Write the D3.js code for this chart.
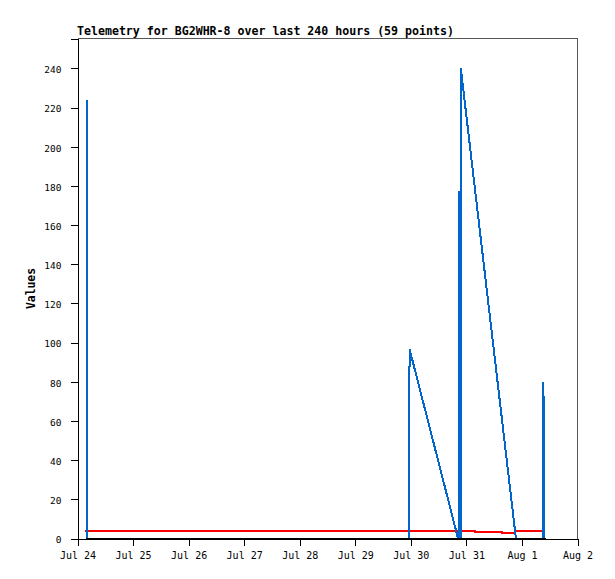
<!DOCTYPE html>
<html>
<head>
<meta charset="utf-8">
<script src="https://cdn.jsdelivr.net/npm/d3@7"></script>
<style>
  html, body { margin: 0; padding: 0; background: #fff; }
  svg { display: block; }
  text { font-family: "DejaVu Sans Mono", "Liberation Mono", monospace; fill: #000; }
</style>
</head>
<body>
<script>
// ---- data (hours since Jul 24 00:00) ----
const titleText = "Telemetry for BG2WHR-8 over last 240 hours (59 points)";
const yLabel = "Values";
const startDate = new Date(2023, 6, 24, 0, 0, 0);
const endDate = new Date(2023, 7, 2, 0, 0, 0);
const yTicks = [0, 20, 40, 60, 80, 100, 120, 140, 160, 180, 200, 220, 240];
const yMax = 255.3;

const blueHours  = [4.0, 4.0, 4.1, 143.1, 143.1, 143.5, 164.4, 164.8, 164.8, 165.2, 165.2, 165.6, 165.6, 189.4, 201.0, 201.0, 201.7, 201.7];
const blueValues = [0,   224, 0,   0,     48,    96.5,  0,     0,     177,   177,   0,     0,     240,   0,     0,     80,    64.5,  0];

const redHours   = [3.2, 171.8, 171.9, 183.5, 183.6, 189.0, 189.1, 200.9];
const redValues  = [3.6, 3.6,   3.1,   3.1,   2.6,   2.6,   3.6,   3.6];

const blackHours  = [3.6, 202.2];
const blackValues = [0,   0];

// ---- chart ----
(function () {
const W = 615, H = 579;
const mLeft = 77.5, mRight = 577.5, mTop = 38.5, mBottom = 538.5;
const svg = d3.select("body").append("svg").attr("width", W).attr("height", H);

const x = d3.scaleTime().domain([startDate, endDate]).range([mLeft, mRight]);
const y = d3.scaleLinear().domain([0, yMax]).range([mBottom, mTop]);
const toDate = h => new Date(startDate.getTime() + h * 3600000);

// frame (top/right gray)
svg.append("path")
  .attr("d", `M${mLeft},${mTop}H${mRight}V${mBottom}`)
  .attr("fill", "none").attr("stroke", "#555").attr("stroke-width", 1)
  .attr("shape-rendering", "crispEdges");

// series
function series(hours, values, color) {
  const pts = hours.map((h, i) => [toDate(h), values[i]]);
  svg.append("path")
    .datum(pts)
    .attr("fill", "none")
    .attr("stroke", color)
    .attr("stroke-width", 2)
    .attr("shape-rendering", "crispEdges")
    .attr("d", d3.line().x(d => x(d[0])).y(d => y(d[1])));
}
series(redHours, redValues, "#ff0000");
series(blueHours, blueValues, "#0066cc");

// axes
const xAxis = d3.axisBottom(x)
  .ticks(d3.timeDay.every(1))
  .tickFormat(d3.timeFormat("%b %-d"))
  .tickSize(7).tickPadding(5);
const gx = svg.append("g").attr("transform", `translate(0,${mBottom})`).call(xAxis);
gx.select(".domain").attr("stroke", "#000").attr("shape-rendering", "crispEdges");
gx.selectAll(".tick line").attr("stroke", "#000").attr("shape-rendering", "crispEdges");
gx.selectAll("text").attr("font-size", "10px").attr("font-family", "DejaVu Sans Mono").attr("dy", "0.85em");

const yAxis = d3.axisLeft(y).tickValues(yTicks).tickSize(7).tickPadding(9);
const gy = svg.append("g").attr("transform", `translate(${mLeft},0)`).call(yAxis);
gy.select(".domain").attr("stroke", "#000").attr("shape-rendering", "crispEdges");
gy.selectAll(".tick line").attr("stroke", "#000").attr("shape-rendering", "crispEdges");
gy.selectAll("text").attr("font-size", "9.5px").attr("font-family", "DejaVu Sans Mono").attr("dy", "0.45em");

// black zero series on top of axis
series(blackHours, blackValues, "#000000");

// title
svg.append("text")
  .attr("x", 77).attr("y", 35)
  .attr("font-size", "11.6px").attr("font-weight", "bold")
  .text(titleText);

// y label
svg.append("text")
  .attr("transform", `translate(35,${(mTop + mBottom) / 2}) rotate(-90)`)
  .attr("text-anchor", "middle")
  .attr("font-size", "11.4px").attr("font-weight", "bold")
  .text(yLabel);
})();
</script>
</body>
</html>
